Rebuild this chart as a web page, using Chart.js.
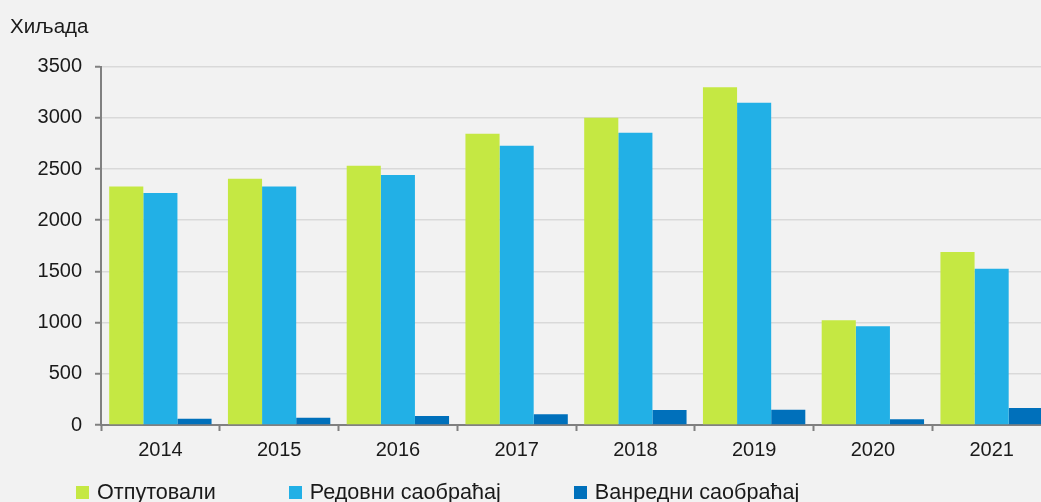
<!DOCTYPE html>
<html>
<head>
<meta charset="utf-8">
<script src="https://cdn.jsdelivr.net/npm/chart.js@4/dist/chart.umd.min.js"></script>
<style>
  html, body { margin: 0; padding: 0; background: #f2f2f2; overflow: hidden; }
  #wrap { position: relative; width: 1051px; height: 502px; }
  #legend {
    position: absolute; left: 76px; top: 479px;
    display: flex; align-items: center;
    font-family: "Liberation Sans", Arial, sans-serif; font-size: 21.6px; color: #1a1a1a;
  }
  #legend .item { display: flex; align-items: center; margin-right: 73px; white-space: nowrap; }
  #legend .box { width: 13px; height: 13px; margin-right: 8px; }
</style>
</head>
<body>
<div id="wrap">
  <canvas id="chart"></canvas>
  <div id="legend"></div>
</div>
<script>
document.addEventListener('DOMContentLoaded', () => {
    // --- DATA ---
    const years = ['2014', '2015', '2016', '2017', '2018', '2019', '2020', '2021'];
    const departed = [2330, 2405, 2532, 2845, 3000, 3298, 1023, 1690];
    const regular = [2265, 2330, 2441, 2727, 2855, 3148, 965, 1525];
    const extra = [60, 70, 88, 105, 147, 150, 55, 166];
    const seriesNames = ['Отпутовали', 'Редовни саобраћај', 'Ванредни саобраћај'];
    const seriesColors = ['#c5e843', '#22b0e6', '#0070bb'];
    const yTicks = [0, 500, 1000, 1500, 2000, 2500, 3000, 3500];

    const font = { family: '"Liberation Sans", Arial, sans-serif', size: 20, weight: 'normal' };
    const textColor = '#1a1a1a';
    const axisColor = '#808080';

    const series = [departed, regular, extra];

    // --- LEGEND (html) ---
    const legend = document.getElementById('legend');
    seriesNames.forEach((name, i) => {
        legend.insertAdjacentHTML('beforeend',
            `<div class="item"><span class="box" style="background:${seriesColors[i]}"></span>${name}</div>`);
    });

    // --- CHART ---
    const ctx = document.getElementById('chart').getContext('2d');
    new Chart(ctx, {
        type: 'bar',
        data: {
            labels: years,
            datasets: series.map((values, i) => ({
                label: seriesNames[i],
                data: values,
                backgroundColor: seriesColors[i],
                borderWidth: 0,
                barPercentage: 1,
                categoryPercentage: 0.862
            }))
        },
        options: {
            responsive: true,
            maintainAspectRatio: false,
            animation: false,
            layout: { padding: { left: 10, right: 0, top: 0, bottom: 33 } },
            plugins: {
                legend: { display: false },
                tooltip: { enabled: false },
                title: {
                    display: true,
                    text: 'Хиљада',
                    align: 'start',
                    color: textColor,
                    font: { ...font, size: 20.5 },
                    padding: { top: 15, bottom: 27 }
                }
            },
            scales: {
                x: {
                    offset: true,
                    border: { color: axisColor, width: 2 },
                    grid: {
                        offset: true,
                        drawOnChartArea: false,
                        drawTicks: true,
                        tickLength: 6,
                        tickColor: axisColor,
                        tickWidth: 2
                    },
                    ticks: { color: textColor, font: font, padding: 7, maxRotation: 0 }
                },
                y: {
                    min: 0,
                    max: 3500,
                    afterBuildTicks: s => { s.ticks = yTicks.map(v => ({ value: v })); },
                    afterFit: s => { s.width = 91; },
                    border: { color: axisColor, width: 2 },
                    grid: {
                        color: '#d9d9d9',
                        lineWidth: 1.5,
                        tickLength: 6,
                        tickColor: axisColor,
                        tickWidth: 2
                    },
                    ticks: { color: textColor, font: font, padding: 13, callback: v => String(v) }
                }
            }
        }
    });
});
</script>
</body>
</html>
